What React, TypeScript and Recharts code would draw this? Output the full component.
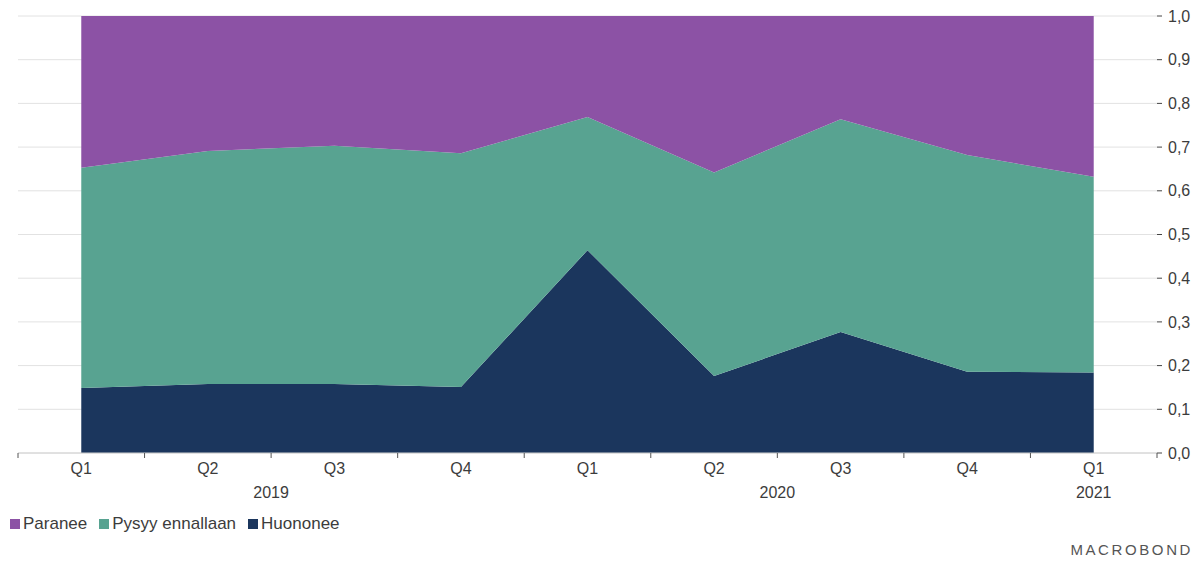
import React from 'react';
import { AreaChart, Area, XAxis, YAxis, CartesianGrid } from 'recharts';

// quarters Q1 2019 .. Q1 2021
const quarters = ['Q1', 'Q2', 'Q3', 'Q4', 'Q1', 'Q2', 'Q3', 'Q4', 'Q1'];
const huononee = [0.149, 0.158, 0.158, 0.151, 0.464, 0.176, 0.277, 0.186, 0.184];
const pysyy = [0.504, 0.533, 0.545, 0.535, 0.305, 0.466, 0.487, 0.496, 0.448];
const paranee = [0.347, 0.309, 0.297, 0.314, 0.231, 0.358, 0.236, 0.318, 0.368];

// year labels sit in the middle of each year's span
const yearLabels: Record<string, string> = { '1.5': '2019', '5.5': '2020', '8': '2021' };
const yTicks = [0, 0.1, 0.2, 0.3, 0.4, 0.5, 0.6, 0.7, 0.8, 0.9, 1.0];
const xTicks = [-0.5, 0, 0.5, 1, 1.5, 2, 2.5, 3, 3.5, 4, 4.5, 5, 5.5, 6, 6.5, 7, 7.5, 8, 8.5];

const COLORS = {
  paranee: '#8c52a5',
  pysyy: '#58a391',
  huononee: '#1b365d',
};

const data = quarters.map((q, i) => ({
  x: i,
  q,
  huononee: huononee[i],
  pysyy: pysyy[i],
  paranee: paranee[i],
}));

const FONT = 'Arial, "Liberation Sans", sans-serif';
const TEXT = '#3c3c3c';

const XTick = (props: any) => {
  const { x, y, payload } = props;
  const v: number = payload.value;
  const isHalf = Math.abs(v - Math.round(v)) > 0.01;
  const year = yearLabels[String(v)];
  return (
    <g>
      {isHalf && <line x1={x} x2={x} y1={y} y2={y + 5} stroke="#555" strokeWidth={1} />}
      {!isHalf && (
        <text x={x} y={y + 21} textAnchor="middle" fontSize={16} fill={TEXT} fontFamily={FONT}>
          {quarters[Math.round(v)]}
        </text>
      )}
      {year && (
        <text x={x} y={y + 45} textAnchor="middle" fontSize={16} fill={TEXT} fontFamily={FONT}>
          {year}
        </text>
      )}
    </g>
  );
};

const legendItems = [
  { name: 'Paranee', color: COLORS.paranee },
  { name: 'Pysyy ennallaan', color: COLORS.pysyy },
  { name: 'Huononee', color: COLORS.huononee },
];

export default function App() {
  return (
    <div style={{ position: 'absolute', left: 0, top: 0, width: 1202, height: 562, background: '#fff', fontFamily: FONT }}>
      <AreaChart
        width={1202}
        height={562}
        data={data}
        margin={{ top: 16, right: 0, left: 18, bottom: 49 }}
      >
        <CartesianGrid horizontal vertical={false} stroke="#e2e2e2" />
        <XAxis
          dataKey="x"
          type="number"
          domain={[-0.5, 8.5]}
          ticks={xTicks}
          interval={0}
          tick={<XTick />}
          tickLine={false}
          tickSize={0}
          tickMargin={0}
          axisLine={{ stroke: '#d0d0d0' }}
          height={60}
        />
        <YAxis
          orientation="right"
          domain={[0, 1]}
          ticks={yTicks}
          interval={0}
          width={45}
          axisLine={false}
          tickLine={{ stroke: '#444' }}
          tickSize={5}
          tickMargin={6}
          tickFormatter={(v: number) => v.toFixed(1).replace('.', ',')}
          tick={{ fontSize: 16, fill: TEXT, fontFamily: FONT, textAnchor: 'start' }}
        />
        <Area type="linear" dataKey="huononee" stackId="a" stroke="none" fill={COLORS.huononee} fillOpacity={1} isAnimationActive={false} />
        <Area type="linear" dataKey="pysyy" stackId="a" stroke="none" fill={COLORS.pysyy} fillOpacity={1} isAnimationActive={false} />
        <Area type="linear" dataKey="paranee" stackId="a" stroke="none" fill={COLORS.paranee} fillOpacity={1} isAnimationActive={false} />
      </AreaChart>
      <div style={{ position: 'absolute', left: 10, top: 514, display: 'flex', gap: 12, fontSize: 17, color: TEXT }}>
        {legendItems.map((it) => (
          <div key={it.name} style={{ display: 'flex', alignItems: 'center', gap: 3 }}>
            <span style={{ display: 'inline-block', width: 10, height: 10, background: it.color }} />
            <span>{it.name}</span>
          </div>
        ))}
      </div>
      <div style={{ position: 'absolute', right: 9, top: 541, fontSize: 15, letterSpacing: 2.6, color: '#555', fontWeight: 300 }}>
        MACROBOND
      </div>
    </div>
  );
}
